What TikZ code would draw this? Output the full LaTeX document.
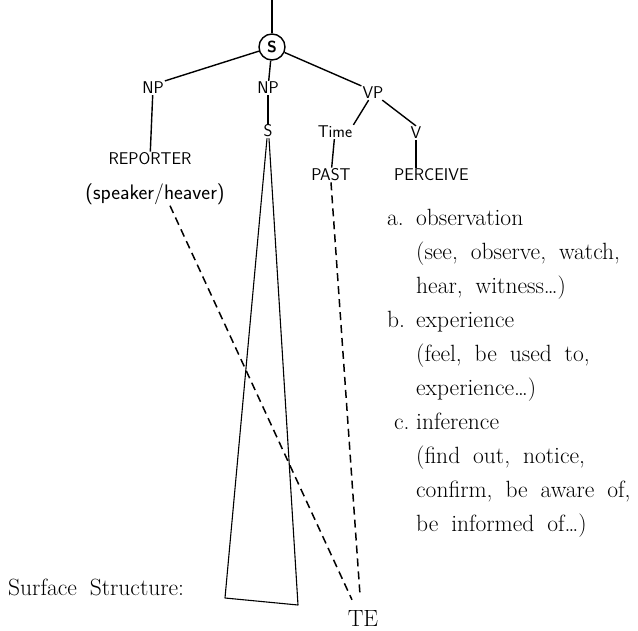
\documentclass[tikz,border=0pt]{standalone}
\usepackage{tikz}
\usetikzlibrary{arrows.meta,positioning,calc}
\newcommand{\widespaces}{\spaceskip=0.55em plus 0.1em\relax}

\begin{document}
\begin{tikzpicture}[x=1pt, y=-1pt,
  cat/.style={font=\sffamily\fontsize{17}{17}\selectfont, inner sep=1pt},
  branch/.style={line width=1.4pt},
  trace/.style={line width=1.5pt, dash pattern=on 8pt off 5pt},
  prose/.style={font=\fontsize{23.5}{34}\selectfont\widespaces, align=left, inner sep=0pt},
]
\useasboundingbox (0,0) rectangle (638,630);
\coordinate (top) at (272,0);
\node[draw, circle, line width=1.4pt, minimum size=26pt, inner sep=0pt,
      font=\sffamily\bfseries\fontsize{16}{16}\selectfont] (s) at (272,47) {S};
\node[cat] (np1) at (153,88) {NP};
\node[cat] (np2) at (268,88) {NP};
\node[cat] (vp) at (373,93) {VP};
\node[cat] (emb) at (268,131) {S};
\node[cat] (time) at (335,132) {Time};
\node[cat] (v) at (416,133) {V};
\node[cat] (reporter) at (150,159) {REPORTER};
\node[cat, font=\sffamily\fontsize{21}{21}\selectfont] (hearer) at (155,194) {(speaker/heaver)};
\node[cat] (past) at (331,175) {PAST};
\node[cat, anchor=west] (perceive) at (393,175) {PERCEIVE};

\draw[branch] (top) -- (s);
\draw[branch] (s) -- (np1.north east);
\draw[branch] (s) -- (np2);
\draw[branch] (s) -- (vp.north west);
\draw[branch] (vp) -- (time.north east);
\draw[branch] (vp) -- (v.north);
\draw[branch] (np1) -- (reporter);
\draw[branch] (np2) -- (emb);
\draw[branch] (time) -- (past);
\draw[branch] (v) -- (v |- perceive.north);

\coordinate (bl) at (225,598);
\coordinate (br) at (298,605);
\draw[line width=1.1pt, line join=round] ([xshift=-1pt]emb.south) -- (bl) -- (br) -- ([xshift=1pt]emb.south);

\node[prose, anchor=base west] (surface) at (8,595) {Surface Structure:};
\node[font=\fontsize{23.5}{23.5}\selectfont, inner sep=0pt, anchor=base] (te) at (363,626) {TE};

\draw[trace] ([xshift=15pt]hearer.south) -- ([xshift=-11pt,yshift=10pt]te.north);
\draw[trace] (past.south) -- ([xshift=-3pt,yshift=15pt]te.north);

\node[prose, anchor=north west] (senses) at (387,209)
  {\makebox[29pt][l]{a.}observation\\
   \hspace*{29pt}(see, observe, watch,\\
   \hspace*{29pt}hear, witness\dots)\\
   \makebox[29pt][l]{b.}experience\\
   \hspace*{29pt}(feel, be used to,\\
   \hspace*{29pt}experience\dots)\\
   \makebox[29pt][l]{\hspace{7pt}c.}inference\\
   \hspace*{29pt}(find out, notice,\\
   \hspace*{29pt}confirm, be aware of,\\
   \hspace*{29pt}be informed of\dots)};
\end{tikzpicture}
\end{document}
